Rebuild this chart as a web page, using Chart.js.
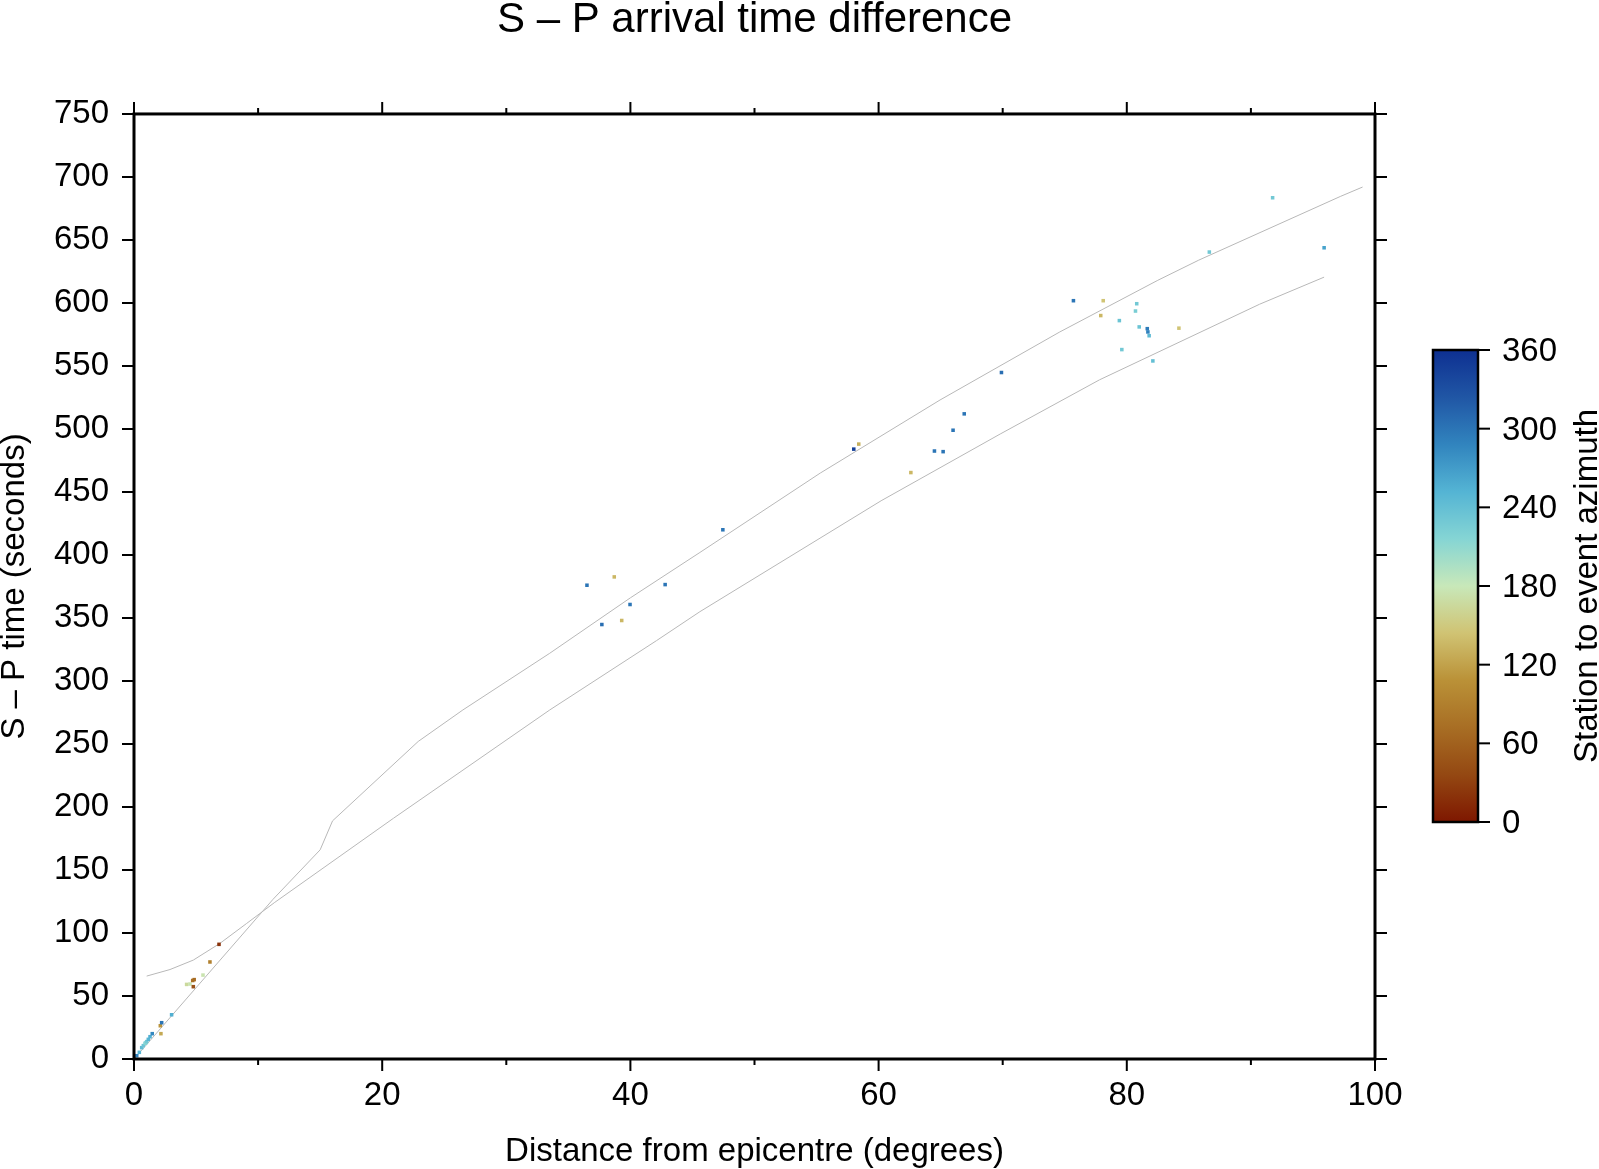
<!DOCTYPE html>
<html lang="en">
<head>
<meta charset="UTF-8">
<title>S - P arrival time difference</title>
<script src="https://cdn.jsdelivr.net/npm/chart.js"></script>
<style>
  body { margin: 0; background: #fff; }
  canvas { display: block; }
</style>
</head>
<body>
<canvas id="spChart" width="1599" height="1169"></canvas>
<script>
// observed S - P picks: distance (deg), time (s), station to event azimuth (deg)
const distDeg = [0.22, 0.43, 0.62, 0.75, 0.89, 0.95, 1.02, 1.15, 1.29, 1.47,
                 2.17, 2.12, 2.23, 3.03, 4.24, 4.51, 4.73, 4.85, 4.78, 5.56,
                 6.12, 6.85,
                 36.5, 38.7, 42.8, 39.97, 39.3, 37.7, 47.45,
                 58.4, 58.0, 66.9, 66.0, 64.5, 65.2, 62.6, 69.9,
                 75.7, 78.1, 77.9, 80.8, 80.7, 79.4, 81.0, 81.65, 81.7, 81.8,
                 84.2, 79.6, 82.1, 91.75, 86.65, 95.9];
const spTime = [2.6, 5.3, 9.0, 10.6, 12.4, 12.8, 13.8, 15.6, 17.7, 20.1,
                20.1, 26.4, 28.8, 35.1, 59.2, 59.5, 62.3, 63.0, 57.4, 66.6,
                77.0, 91.0,
                376, 382.6, 376.5, 360.7, 348, 344.8, 420,
                488, 484, 512, 499, 482.5, 482, 465.4, 544.8,
                601.8, 601.8, 590, 599.4, 593.6, 586, 581, 579.6, 577, 574,
                580, 563, 554, 683.5, 640.4, 643.8];
const azimuth = [290, 250, 245, 235, 225, 215, 230, 250, 255, 285,
                 125, 110, 300, 255, 165, 175, 75, 70, 45, 175,
                 90, 20,
                 300, 135, 300, 300, 135, 305, 300,
                 130, 345, 300, 300, 300, 300, 135, 305,
                 300, 145, 135, 230, 225, 235, 235, 295, 290, 245,
                 145, 230, 240, 230, 230, 265];

// theoretical S - P curves
const curveADist = [0, 11.2, 15.0, 16.0, 22.9, 26.5, 33.5, 40, 45.6, 55.3, 64.95, 74.6, 82.5, 85.8, 97.2, 99.0];
const curveATime = [0, 126.7, 166, 189, 252, 277, 322, 366, 402, 465, 523, 577, 618, 634, 684.5, 692];
const curveBDist = [1.02, 2.9, 4.78, 6.93, 9.08, 11.3, 20.9, 33.5, 42.1, 45.6, 60.2, 69.8, 77.8, 90.7, 95.9];
const curveBTime = [65.8, 71, 78.5, 91.8, 107.6, 124, 191, 277, 332, 355, 443, 496, 539, 599, 620.5];

const xTicks = [0, 10, 20, 30, 40, 50, 60, 70, 80, 90, 100];
const yTicks = [0, 50, 100, 150, 200, 250, 300, 350, 400, 450, 500, 550, 600, 650, 700, 750];
const azTicks = [0, 60, 120, 180, 240, 300, 360];

// roma-like colour table
const cmapPos = [0, 0.1, 0.2, 0.3, 0.4, 0.5, 0.6, 0.7, 0.8, 0.9, 1];
const cmapRGB = [[126, 23, 0], [148, 72, 18], [168, 110, 36], [186, 145, 55], [208, 195, 115],
                 [200, 232, 185], [133, 213, 212], [84, 180, 212], [49, 132, 190], [32, 86, 165], [14, 48, 145]];

function azColour(az) {
  const t = Math.max(0, Math.min(1, az / 360));
  for (let i = 1; i < cmapPos.length; i++) {
    if (t <= cmapPos[i]) {
      const f = (t - cmapPos[i - 1]) / (cmapPos[i] - cmapPos[i - 1]);
      const a = cmapRGB[i - 1], b = cmapRGB[i];
      const c = a.map((v, k) => Math.round(v + (b[k] - v) * f));
      return `rgb(${c[0]},${c[1]},${c[2]})`;
    }
  }
  return 'rgb(14,48,145)';
}

const FONT = "'Liberation Sans', Arial, sans-serif";
Chart.defaults.font.family = FONT;
Chart.defaults.color = '#000';

// frame, ticks and colour bar
const framePlugin = {
  id: 'frame',
  afterDraw(chart) {
    const ctx = chart.ctx;
    const a = chart.chartArea;
    const xs = chart.scales.x, ys = chart.scales.y;
    ctx.save();
    ctx.strokeStyle = '#000';
    ctx.lineWidth = 2;
    ctx.beginPath();
    xTicks.forEach(v => {
      const px = xs.getPixelForValue(v);
      const len = v % 20 === 0 ? 12 : 6;
      ctx.moveTo(px, a.bottom); ctx.lineTo(px, a.bottom + len);
      ctx.moveTo(px, a.top); ctx.lineTo(px, a.top - len);
    });
    yTicks.forEach(v => {
      const py = ys.getPixelForValue(v);
      ctx.moveTo(a.left, py); ctx.lineTo(a.left - 12, py);
      ctx.moveTo(a.right, py); ctx.lineTo(a.right + 12, py);
    });
    ctx.stroke();
    ctx.lineWidth = 3;
    ctx.strokeRect(a.left, a.top, a.right - a.left, a.bottom - a.top);

    // colour bar
    const cbL = 1433, cbR = 1478, cbT = 350, cbB = 822;
    const grad = ctx.createLinearGradient(0, cbB, 0, cbT);
    cmapPos.forEach((p, i) => grad.addColorStop(p, `rgb(${cmapRGB[i].join(',')})`));
    ctx.fillStyle = grad;
    ctx.fillRect(cbL, cbT, cbR - cbL, cbB - cbT);
    ctx.lineWidth = 2.5;
    ctx.strokeRect(cbL, cbT, cbR - cbL, cbB - cbT);
    ctx.lineWidth = 2;
    ctx.font = `33px ${FONT}`;
    ctx.fillStyle = '#000';
    ctx.textAlign = 'left';
    ctx.textBaseline = 'middle';
    azTicks.forEach(v => {
      const py = cbB - (v / 360) * (cbB - cbT);
      ctx.beginPath();
      ctx.moveTo(cbR, py); ctx.lineTo(cbR + 12, py);
      ctx.stroke();
      ctx.fillText(String(v), 1502, py + 2);
    });
    ctx.translate(1597, (cbT + cbB) / 2);
    ctx.rotate(-Math.PI / 2);
    ctx.textAlign = 'center';
    ctx.textBaseline = 'alphabetic';
    ctx.font = `33px ${FONT}`;
    ctx.fillText('Station to event azimuth', 0, 0);
    ctx.restore();
  }
};

const points = distDeg.map((d, i) => ({ x: d, y: spTime[i] }));
const curveA = curveADist.map((d, i) => ({ x: d, y: curveATime[i] }));
const curveB = curveBDist.map((d, i) => ({ x: d, y: curveBTime[i] }));

new Chart(document.getElementById('spChart'), {
  type: 'scatter',
  data: {
    datasets: [
      {
        type: 'line', data: curveA, borderColor: '#b8b8b8', borderWidth: 1,
        pointRadius: 0, fill: false, tension: 0, order: 2
      },
      {
        type: 'line', data: curveB, borderColor: '#b8b8b8', borderWidth: 1,
        pointRadius: 0, fill: false, tension: 0, order: 2
      },
      {
        type: 'scatter', data: points, pointStyle: 'rect', pointRadius: 2.5,
        pointBorderWidth: 0, pointBackgroundColor: azimuth.map(azColour), order: 1
      }
    ]
  },
  options: {
    responsive: false,
    animation: false,
    layout: { padding: { left: 0, right: 224, top: 0, bottom: 0 } },
    plugins: {
      legend: { display: false },
      tooltip: { enabled: false },
      title: {
        display: true,
        text: 'S \u2013 P arrival time difference',
        fullSize: false,
        font: { size: 42, weight: 'normal', lineHeight: 0.88 },
        color: '#000',
        padding: { top: 2, bottom: 75 }
      }
    },
    scales: {
      x: {
        type: 'linear', min: 0, max: 100,
        afterBuildTicks: s => { s.ticks = xTicks.map(v => ({ value: v })); },
        afterFit: s => { s.height = 110; },
        ticks: {
          callback: v => (v % 20 === 0 ? v : ''),
          font: { size: 33 }, color: '#000', padding: 17,
          maxRotation: 0, autoSkip: false
        },
        grid: { display: false, drawTicks: false, tickLength: 0 },
        border: { display: false },
        title: {
          display: true, text: 'Distance from epicentre (degrees)',
          font: { size: 33, lineHeight: 1.05 }, color: '#000', padding: { top: 14, bottom: 0 }
        }
      },
      y: {
        type: 'linear', min: 0, max: 750,
        afterBuildTicks: s => { s.ticks = yTicks.map(v => ({ value: v })); },
        afterFit: s => { s.width = 134; },
        ticks: { font: { size: 33 }, color: '#000', padding: 25, autoSkip: false },
        grid: { display: false, drawTicks: false, tickLength: 0 },
        border: { display: false },
        title: {
          display: true, text: 'S \u2013 P time (seconds)',
          font: { size: 33, lineHeight: 0.88 }, color: '#000', padding: { top: 0, bottom: 27 }
        }
      }
    }
  },
  plugins: [framePlugin]
});
</script>
</body>
</html>
